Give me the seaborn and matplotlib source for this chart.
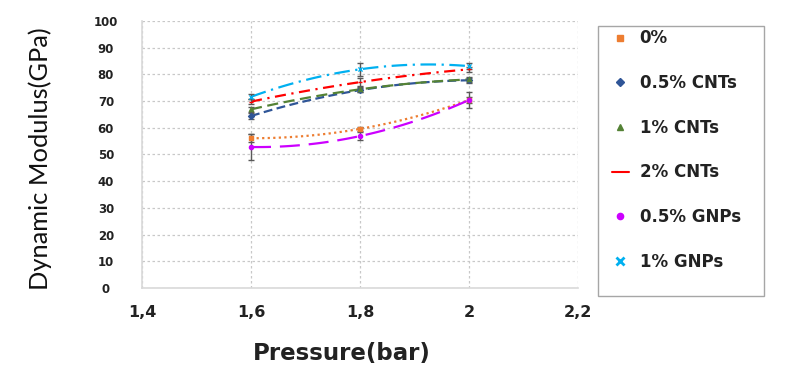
import numpy as np
import pandas as pd
import matplotlib
matplotlib.use("Agg")
import matplotlib.pyplot as plt
from matplotlib.lines import Line2D
from matplotlib.patches import Rectangle
import seaborn as sns

# Data
pressure = [1.6, 1.8, 2.0]
series_names = ["0%", "0.5% CNTs", "1% CNTs", "2% CNTs", "0.5% GNPs", "1% GNPs"]
mod_0 = [56.1, 59.6, 70.4]
mod_cnt05 = [64.4, 74.1, 77.8]
mod_cnt1 = [66.9, 74.4, 78.1]
mod_cnt2 = [69.8, 77.1, 81.9]
mod_gnp05 = [52.8, 56.9, 70.4]
mod_gnp1 = [71.6, 81.9, 83.1]
err_0 = [1.5, 0.8, 1.0]
err_cnt05 = [1.0, 0.8, 1.0]
err_cnt1 = [1.0, 1.0, 1.0]
err_cnt2 = [1.0, 1.5, 1.0]
err_gnp05 = [5.0, 1.5, 3.0]
err_gnp1 = [1.0, 2.4, 1.0]

values = [mod_0, mod_cnt05, mod_cnt1, mod_cnt2, mod_gnp05, mod_gnp1]
errors = [err_0, err_cnt05, err_cnt1, err_cnt2, err_gnp05, err_gnp1]
colors = ["#ED7D31", "#2F5597", "#548235", "#FF0000", "#CC00FF", "#00B0F0"]
markers = ["s", "D", "^", "_", "o", "x"]
trend_styles = [(0, (1, 1.5)), (0, (4, 2)), (0, (5, 2.5)), (0, (5, 2.5, 1, 2.5)),
                (0, (9, 4)), (0, (7, 2.5, 1, 2.5))]

sns.set_style("white")
plt.rcParams["font.family"] = ["DejaVu Sans"]

fig = plt.figure(figsize=(8.0, 3.67), dpi=100)
ax = fig.add_axes([0.1775, 0.2153, 0.545, 0.7275])

# polynomial (order 2) trend lines through each series
x_fine = np.linspace(1.6, 2.0, 100)
for name, vals, errs, col, mk, ls in zip(series_names, values, errors, colors, markers, trend_styles):
    coef = np.polyfit(pressure, vals, 2)
    trend = pd.DataFrame({"x": x_fine, "y": np.polyval(coef, x_fine)})
    sns.lineplot(data=trend, x="x", y="y", ax=ax, color=col, linestyle=ls, linewidth=1.6)
    ax.errorbar(pressure, vals, yerr=errs, fmt="none", ecolor="#595959",
                elinewidth=1.0, capsize=2, capthick=1.0, zorder=3)
    ax.scatter(pressure, vals, marker=mk, s=9, color=col, zorder=4, linewidths=1)

ax.set_xlim(1.4, 2.2)
ax.set_ylim(0, 100)
xticks = [1.4, 1.6, 1.8, 2.0, 2.2]
xtick_labels = ["1,4", "1,6", "1,8", "2", "2,2"]
ax.set_xticks(xticks)
ax.set_xticklabels(xtick_labels)
ax.set_yticks(np.arange(0, 101, 10))
ax.tick_params(axis="both", length=0)
ax.tick_params(axis="x", pad=12, labelsize=11.5)
ax.tick_params(axis="y", pad=26, labelsize=8.5)
for lab in ax.get_xticklabels() + ax.get_yticklabels():
    lab.set_fontweight("bold")
    lab.set_color("#222222")
for lab in ax.get_yticklabels():
    lab.set_horizontalalignment("center")

ax.grid(True, color="#c8c8c8", linestyle=(0, (2, 2)), linewidth=0.9)
for s in ["top", "right"]:
    ax.spines[s].set_visible(False)
for s in ["left", "bottom"]:
    ax.spines[s].set_color("#d9d9d9")
    ax.spines[s].set_linewidth(1.2)

ax.set_xlabel("")
ax.set_ylabel("")
fig.text(0.4275, 0.038, "Pressure(bar)", fontsize=16.5, fontweight="bold",
         color="#222222", ha="center", va="center")
fig.text(0.05, 0.567, "Dynamic Modulus(GPa)", fontsize=18.3, rotation=90,
         family=["Lato", "DejaVu Sans"], color="#111111", ha="center", va="center")

# legend box
fig.patches.append(Rectangle((0.7475, 0.1935), 0.2075, 0.7357, transform=fig.transFigure,
                             facecolor="white", edgecolor="#a6a6a6", linewidth=1.0))
handles = []
for name, col, mk in zip(series_names, colors, markers):
    if mk == "_":
        h = Line2D([0], [0], color=col, linestyle="-", linewidth=1.5, label=name)
    else:
        h = Line2D([0], [0], color=col, marker=mk, linestyle="none",
                   markersize=6 if mk == "x" else 4.5,
                   markeredgewidth=2 if mk == "x" else 1, label=name)
    handles.append(h)
leg = fig.legend(handles=handles, loc="upper left", bbox_to_anchor=(0.765, 0.92),
                 frameon=False, labelspacing=1.6, handlelength=1.0,
                 handletextpad=0.65, borderpad=0, borderaxespad=0,
                 prop={"weight": "bold", "size": 12})
for t in leg.get_texts():
    t.set_color("#222222")

fig.savefig("out.png", dpi=100)
